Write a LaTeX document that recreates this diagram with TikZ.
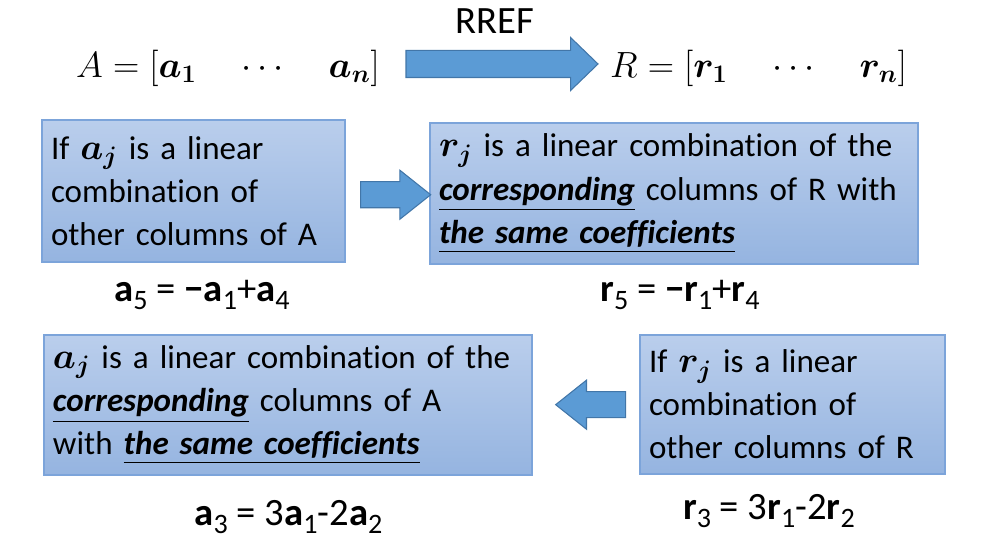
\documentclass[tikz,border=0pt]{standalone}
\usepackage{amsmath,bm}
\usepackage{fontspec}
\setmainfont{Carlito}[Ligatures=CommonOff]
\usetikzlibrary{calc,positioning,shapes.arrows}
\definecolor{BoxTop}{RGB}{186,206,236}
\definecolor{BoxBottom}{RGB}{149,180,224}
\definecolor{BoxEdge}{RGB}{124,164,218}
\definecolor{ArrowBlue}{RGB}{91,155,213}
\definecolor{ArrowEdge}{RGB}{66,118,168}
\definecolor{Ink}{RGB}{0,0,0}
\tikzset{
  box/.style={draw=BoxEdge,line width=.6pt,top color=BoxTop,bottom color=BoxBottom,text=Ink,align=left,anchor=center,inner xsep=.18cm,inner ysep=0pt,font=\fontsize{18.8}{24.5}\selectfont},
  fatarrow/.style={single arrow,draw=ArrowEdge,line width=.6pt,fill=ArrowBlue,inner xsep=0pt,single arrow head indent=0pt,outer sep=0pt},
  example/.style={font=\fontsize{22}{26}\selectfont,text=Ink},
  matrixrow/.style={font=\fontsize{22}{26}\selectfont,text=Ink},
  title/.style={font=\fontsize{22}{26}\selectfont,text=Ink}
}
\newcommand{\va}{\boldsymbol{a}}
\newcommand{\vr}{\boldsymbol{r}}
\newcommand{\colvec}[1]{{\fontsize{22}{22}\selectfont$#1$}}
\newcommand{\emphu}[1]{\underline{\textbf{\textit{#1}}}}
\newcommand{\low}[1]{\raisebox{-.4ex}{\fontsize{16}{16}\selectfont #1}}
\begin{document}
\begin{tikzpicture}[x=1cm,y=1cm]
  \useasboundingbox (0,0) rectangle (19.72,10.98);
  \node[matrixrow,anchor=east] (matA) at (7.72,9.62) {$A=[\va_{\bm 1}\quad\cdots\quad \va_{\bm n}]$};
  \node[matrixrow,anchor=west] (matR) at (12.08,9.62) {$R=[\vr_{\bm 1}\quad\cdots\quad \vr_{\bm n}]$};
  \node[fatarrow,minimum height=3.84cm,inner ysep=.26cm,single arrow head extend=.26cm,single arrow tip angle=88] (rref) at ($(matA.east)!.5!(matR.west)+(0,.08)$) {};
  \node[title,above=.22cm of rref] (rreflabel) {RREF};

  \node[box,minimum width=6.06cm,minimum height=2.84cm,text width=5.70cm] (ifA) at (3.87,7.16) {\mbox{If \colvec{\va_{\bm j}} is a linear}\\combination of\\\mbox{other columns of A}};
  \node[box,minimum width=9.76cm,minimum height=2.82cm,text width=9.40cm] (thenR) at (13.48,7.11) {\mbox{\colvec{\vr_{\bm j}} is a linear combination of the}\\\mbox{\emphu{corresponding} columns of R with}\\\emphu{the same coefficients}};
  \node[fatarrow,minimum height=1.4cm,inner ysep=.25cm,single arrow head extend=.23cm,single arrow tip angle=77] (toR) at ($(ifA.east)!.5!(thenR.west)-(0,.05)$) {};
  \node[example] (exA5) at (4.04,5.08) {\textbf{a}\low{5} = \textbf{−a}\low{1}+\textbf{a}\low{4}};
  \node[example] (exR5) at (13.60,5.08) {\textbf{r}\low{5} = \textbf{−r}\low{1}+\textbf{r}\low{4}};

  \node[box,minimum width=9.76cm,minimum height=2.80cm,text width=9.40cm] (thenA) at (5.76,2.88) {\mbox{\colvec{\va_{\bm j}} is a linear combination of the}\\\mbox{\emphu{corresponding} columns of A}\\\mbox{with \emphu{the same coefficients}}};
  \node[box,minimum width=6.10cm,minimum height=2.78cm,text width=5.74cm] (ifR) at (15.85,2.89) {\mbox{If \colvec{\vr_{\bm j}} is a linear}\\combination of\\\mbox{other columns of R}};
  \node[fatarrow,shape border rotate=180,minimum height=1.4cm,inner ysep=.25cm,single arrow head extend=.23cm,single arrow tip angle=77] (toA) at ($(thenA.east)!.62!(ifR.west)$) {};
  \node[example] (exA3) at (5.77,0.64) {\textbf{a}\low{3} = 3\textbf{a}\low{1}-2\textbf{a}\low{2}};
  \node[example] (exR3) at (15.38,0.76) {\textbf{r}\low{3} = 3\textbf{r}\low{1}-2\textbf{r}\low{2}};
\end{tikzpicture}
\end{document}
